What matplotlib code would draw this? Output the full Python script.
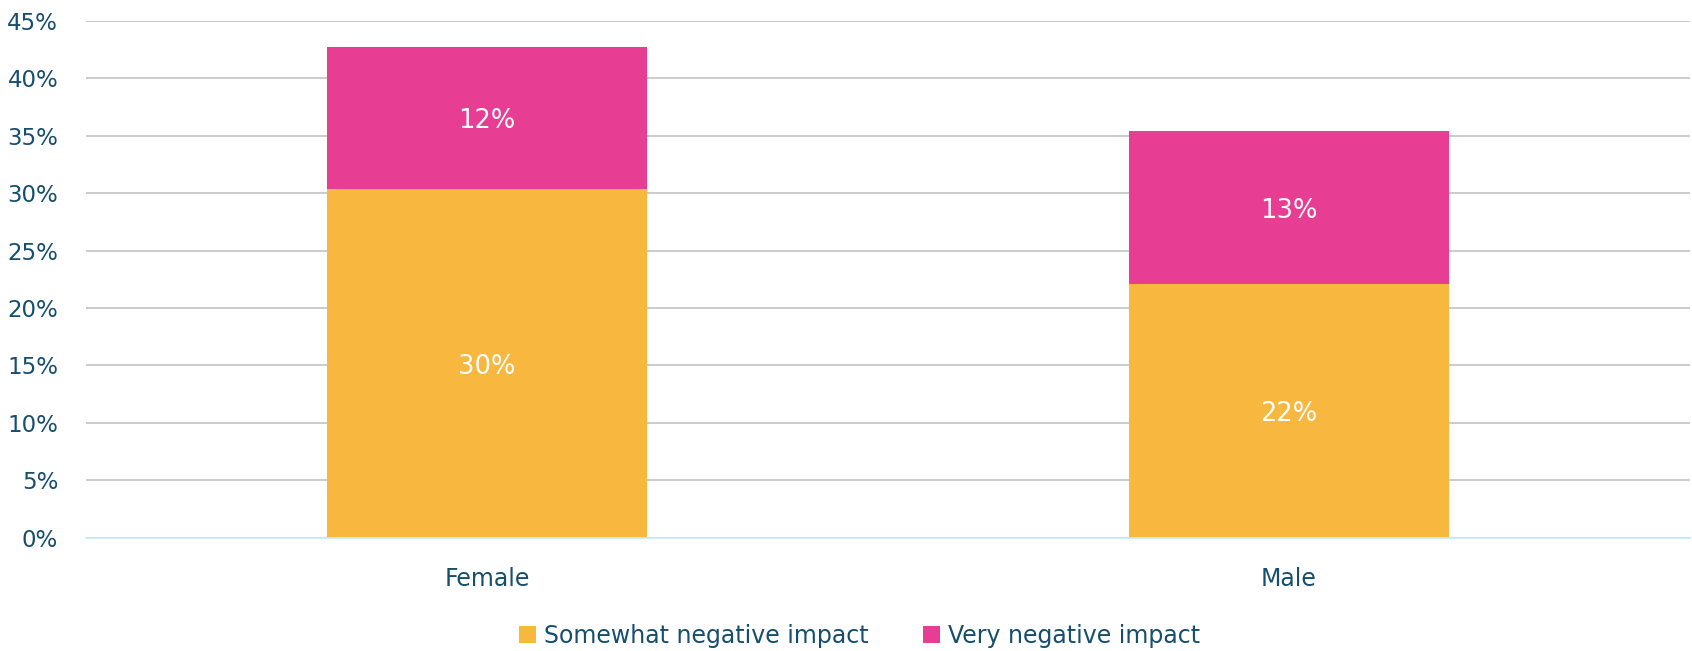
import numpy as np
import matplotlib
matplotlib.use("Agg")
from matplotlib import pyplot as plt

categories = ["Female", "Male"]
somewhat = [30.4, 22.1]
very = [12.3, 13.3]
somewhat_labels = ["30%", "22%"]
very_labels = ["12%", "13%"]
yticks = [0, 5, 10, 15, 20, 25, 30, 35, 40, 45]

text_col = "#164E6E"
orange = "#F8B73E"
pink = "#E73E94"

plt.rcParams['font.family'] = ['DejaVu Sans']

fig = plt.figure(figsize=(16.92, 6.51), dpi=100)
ax = fig.add_axes([86/1692, 1 - 537.7/651, (1690 - 86)/1692, (537.7 - 21)/651])

x = np.arange(len(categories))
b1 = ax.bar(x, somewhat, width=0.4, color=orange, label="Somewhat negative impact", zorder=3)
b2 = ax.bar(x, very, width=0.4, bottom=somewhat, color=pink, label="Very negative impact", zorder=3)

for i in range(len(categories)):
    ax.text(x[i], somewhat[i] / 2 - 0.3, somewhat_labels[i], ha="center", va="center",
            color="white", fontsize=18.5, zorder=4)
    ax.text(x[i], somewhat[i] + very[i] / 2 - 0.3, very_labels[i], ha="center", va="center",
            color="white", fontsize=18.5, zorder=4)

ax.set_xlim(-0.5, 1.5)
ax.set_ylim(0, 45)
ax.set_yticks(yticks)
ax.set_yticklabels([f"{t}%" for t in yticks])
ax.set_xticks(x)
ax.set_xticklabels(categories)
ax.tick_params(axis="y", length=0, pad=20, labelsize=16.5, labelcolor=text_col)
ax.tick_params(axis="x", length=0, pad=21, labelsize=17, labelcolor=text_col)

ax.yaxis.grid(True, color="#C2C2C2", linewidth=1.2, zorder=0)
for s in ["top", "right", "left"]:
    ax.spines[s].set_visible(False)
ax.spines["bottom"].set_color("#C5EBF8")
ax.spines["bottom"].set_linewidth(1.2)
ax.spines["bottom"].set_zorder(5)

fig.legend(handles=[b1, b2], loc="center", bbox_to_anchor=(859.5/1692, 1 - 635.5/651),
           ncol=2, frameon=False, fontsize=17, labelcolor=text_col,
           handlelength=0.72, handleheight=0.72, handletextpad=0.35, columnspacing=2.3)

fig.savefig("out.png", dpi=100)
